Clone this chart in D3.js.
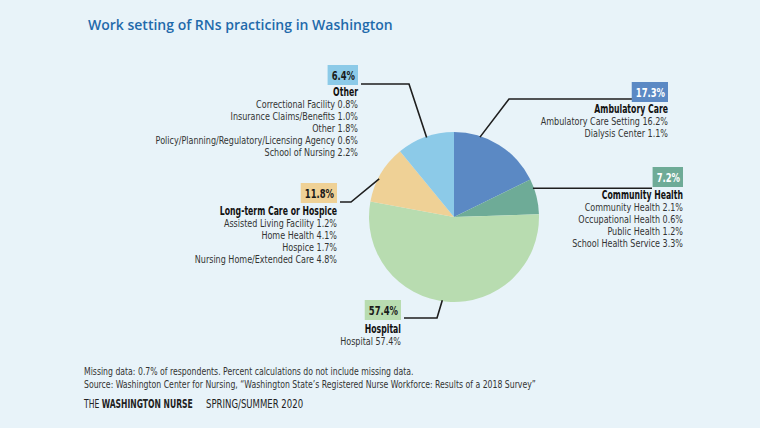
<!DOCTYPE html>
<html>
 <head>
    <meta charset="utf-8">
    <style>
        body {
          margin: 0;
          background: #e8f3f9;
        }
        svg { display: block; }
        .cond { font-family: "Liberation Sans Narrow", "DejaVu Sans Condensed", "Roboto Condensed", sans-serif; }
    </style>
    <script src="https://d3js.org/d3.v7.min.js"></script>
 </head>
 <body>
    <div id="chart"></div>
    <script type="text/javascript">
        // groups, clockwise from 12 o'clock
        const categories = ["Ambulatory Care", "Community Health", "Hospital", "Long-term Care or Hospice", "Other"];
        const percentLabels = [17.3, 7.2, 57.4, 11.8, 6.4];
        // slice sizes as they are drawn in the original (the artwork does not follow the labels exactly)
        const drawnShare = [17.75, 6.75, 53.4, 11.15, 10.95];
        const colors = ["#5b89c4", "#6eab97", "#b8dcb0", "#efd196", "#8ccae8"];
        const boxText = ["#ffffff", "#ffffff", "#1a1a1a", "#1a1a1a", "#1a1a1a"];

        const subItems = [
            ["Ambulatory Care Setting", "Dialysis Center"],
            ["Community Health", "Occupational Health", "Public Health", "School Health Service"],
            ["Hospital"],
            ["Assisted Living Facility", "Home Health", "Hospice", "Nursing Home/Extended Care"],
            ["Correctional Facility", "Insurance Claims/Benefits", "Other", "Policy/Planning/Regulatory/Licensing Agency", "School of Nursing"]
        ];
        const subValues = [
            [16.2, 1.1],
            [2.1, 0.6, 1.2, 3.3],
            [57.4],
            [1.2, 4.1, 1.7, 4.8],
            [0.8, 1.0, 1.8, 0.6, 2.2]
        ];

        const title = "Work setting of RNs practicing in Washington";
        const notes = [
            "Missing data: 0.7% of respondents. Percent calculations do not include missing data.",
            "Source: Washington Center for Nursing, \u201cWashington State\u2019s Registered Nurse Workforce: Results of a 2018 Survey\u201d"
        ];

        // where each label block sits (right edge, box top, heading baseline) and its leader line
        const layout = [
            {x: 668, boxY: 82,  head: 113, angle: 18,  elbow: [509, 99],  end: [633, 99]},
            {x: 683, boxY: 167, head: 199, angle: 70,  elbow: null,       end: [652, null]},
            {x: 401, boxY: 300, head: 333, angle: 188, elbow: [437, 318], end: [404, 318]},
            {x: 337, boxY: 183, head: 215, angle: 297, elbow: [351, 202], end: [340, 202]},
            {x: 358, boxY: 65,  head: 96,  angle: 341, elbow: [409, 84],  end: [361, 84]}
        ];

        const W = 760, H = 428;
        const cx = 454, cy = 217, R = 85;
        const squeeze = 0.82;   // narrow the condensed face a bit more
        const headSqueeze = 0.75;

        const svg = d3.select("#chart").append("svg")
            .attr("width", W).attr("height", H);

        svg.append("rect").attr("width", W).attr("height", H).attr("fill", "#e8f3f9");

        // text placed at (x,y) and squeezed horizontally
        function ctext(parent, x, y, sx) {
            return parent.append("text")
                .attr("class", "cond")
                .attr("transform", "translate(" + x + "," + y + ") scale(" + sx + ",1)");
        }

        svg.append("text")
            .attr("x", 88).attr("y", 30)
            .attr("font-family", "'Open Sans', sans-serif")
            .attr("font-weight", 600)
            .attr("font-size", 14)
            .attr("fill", "#1f6aab")
            .text(title);

        const pie = d3.pie().sort(null).value(d => d)(drawnShare);
        const arc = d3.arc().innerRadius(0).outerRadius(R);

        const g = svg.append("g").attr("transform", "translate(" + cx + "," + cy + ")");
        g.selectAll("path")
            .data(pie)
            .join("path")
            .attr("d", arc)
            .attr("fill", (d, i) => colors[i]);

        // leader lines
        const line = d3.line();
        layout.forEach((L, i) => {
            const p = d3.pointRadial(L.angle * Math.PI / 180, R - 1);
            const start = [cx + p[0], cy + p[1]];
            const pts = [start];
            if (L.elbow) pts.push(L.elbow);
            pts.push([L.end[0], L.end[1] == null ? start[1] : L.end[1]]);
            svg.append("path")
                .attr("d", line(pts))
                .attr("fill", "none")
                .attr("stroke", "#1e1e1e")
                .attr("stroke-width", 1.6);
        });

        // label blocks
        layout.forEach((L, i) => {
            const grp = svg.append("g");
            const valTxt = ctext(grp, L.x - 3, L.boxY + 15, headSqueeze)
                .attr("text-anchor", "end")
                .attr("font-weight", 700)
                .attr("font-size", 12.5)
                .attr("fill", boxText[i])
                .text(percentLabels[i].toFixed(1) + "%");
            const bw = valTxt.node().getBBox().width * headSqueeze;
            grp.insert("rect", "text")
                .attr("x", L.x - 3 - bw - 4).attr("y", L.boxY)
                .attr("width", bw + 7).attr("height", 20)
                .attr("fill", colors[i]);

            ctext(grp, L.x, L.head, headSqueeze)
                .attr("text-anchor", "end")
                .attr("font-weight", 700)
                .attr("font-size", 11.5)
                .attr("fill", "#111")
                .text(categories[i]);

            subItems[i].forEach((d, j) => {
                ctext(grp, L.x, L.head + 12 * (j + 1), squeeze)
                    .attr("text-anchor", "end")
                    .attr("font-size", 10.9)
                    .attr("fill", "#333")
                    .text(d + " " + subValues[i][j].toFixed(1) + "%");
            });
        });

        // footnotes
        notes.forEach((d, i) => {
            ctext(svg, 84, 375 + 12.5 * i, 0.83)
                .attr("font-size", 10.4)
                .attr("fill", "#333")
                .text(d);
        });

        const mast = ctext(svg, 84, 408, 0.68)
            .attr("font-size", 12.5)
            .attr("fill", "#222");
        mast.append("tspan").text("THE ");
        mast.append("tspan").attr("font-weight", 700).text("WASHINGTON NURSE");
        ctext(svg, 206, 408, 0.76)
            .attr("font-size", 12.5)
            .attr("fill", "#222")
            .text("SPRING/SUMMER 2020");
    </script>
 </body>
</html>
